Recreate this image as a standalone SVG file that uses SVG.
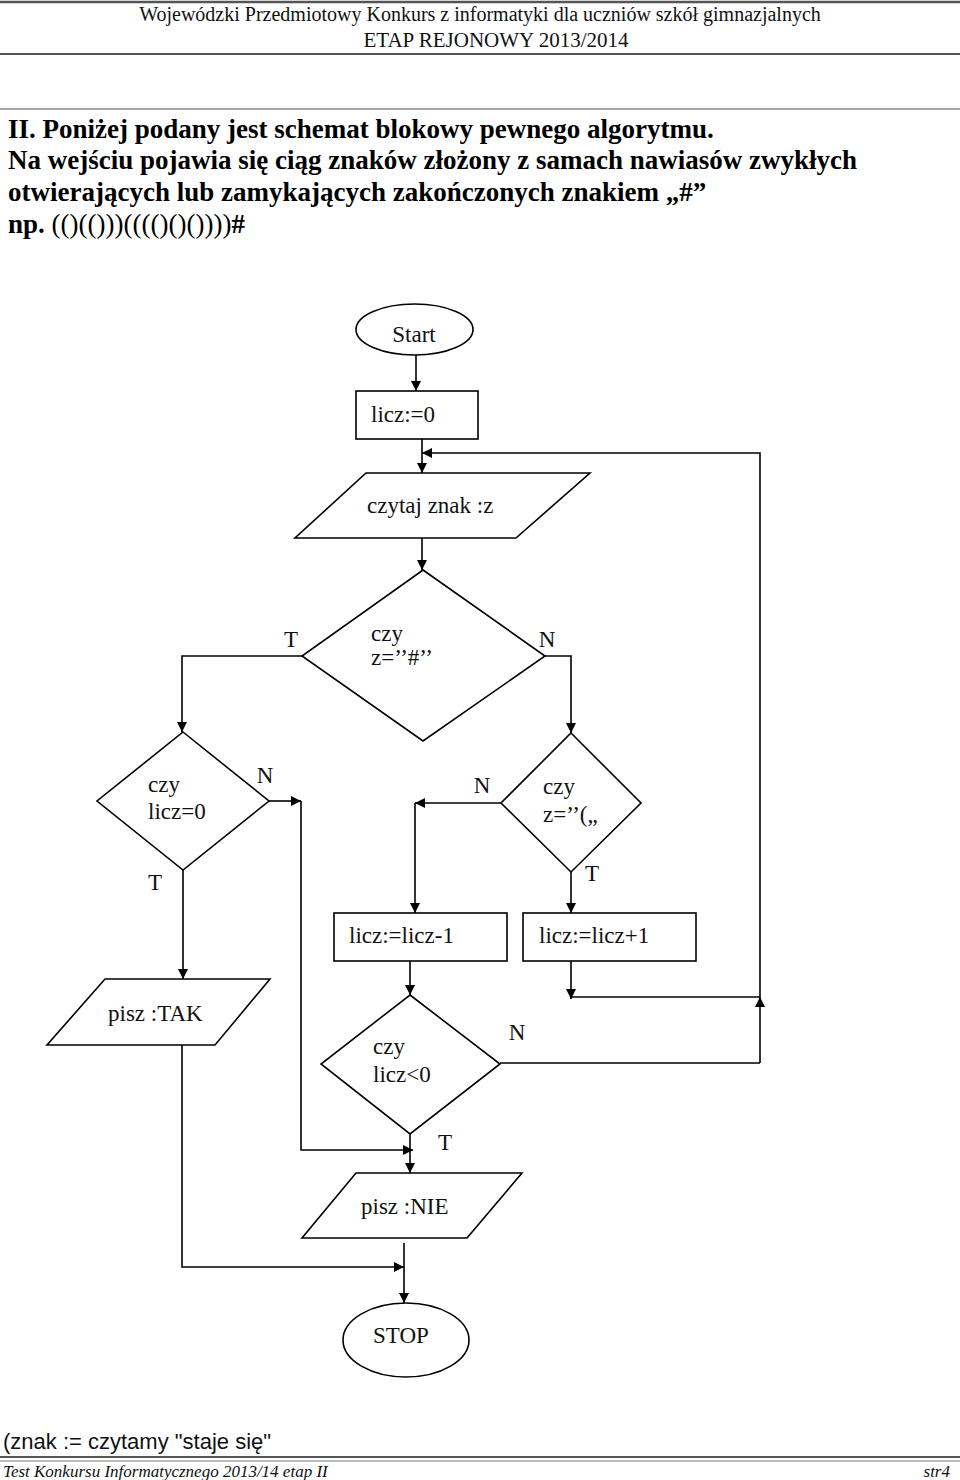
<svg xmlns="http://www.w3.org/2000/svg" width="960" height="1480" viewBox="0 0 960 1480">
<style>
.hdr{font-family:"Liberation Serif","Times New Roman",serif;fill:#111}
.intro{font-family:"Liberation Serif","Times New Roman",serif;font-size:27px;font-weight:bold;fill:#000}
.lbl{font-family:"Liberation Serif","Times New Roman",serif;font-size:23px;fill:#111}
.shape{fill:#fff;stroke:#000;stroke-width:1.6}
.conn path{fill:none;stroke:#000;stroke-width:1.6}
.rule{stroke-width:2}
</style>
<defs>
<marker id="arr" markerUnits="userSpaceOnUse" viewBox="0 0 10 10" refX="10" refY="5" markerWidth="10" markerHeight="10" orient="auto">
<path d="M0,0 L10,5 L0,10 z" fill="#000"/>
</marker>
</defs>
<rect width="960" height="1480" fill="#fff"/>

<g id="page-header">
<line x1="0" y1="2" x2="960" y2="2" stroke="#555" stroke-width="2.5"/>
<text class="hdr" x="480" y="21" font-size="20" text-anchor="middle">Wojewódzki Przedmiotowy Konkurs z informatyki dla uczniów szkół gimnazjalnych</text>
<text class="hdr" x="496" y="47" font-size="21" text-anchor="middle">ETAP REJONOWY 2013/2014</text>
<line x1="0" y1="54" x2="960" y2="54" stroke="#555" stroke-width="2"/>
<line x1="0" y1="109" x2="960" y2="109" stroke="#888" stroke-width="1.5"/>
</g>

<g id="intro-text">
<text class="intro" x="8" y="138">II. Poniżej podany jest schemat blokowy pewnego algorytmu.</text>
<text class="intro" x="8" y="169">Na wejściu pojawia się ciąg znaków złożony z samach nawiasów zwykłych</text>
<text class="intro" x="8" y="201">otwierających lub zamykających zakończonych znakiem „#”</text>
<text class="intro" x="8" y="233">np. <tspan font-weight="normal">(()(()))(((()()())))</tspan>#</text>
</g>

<g class="conn" id="connectors">
<path d="M416,355 V391" marker-end="url(#arr)"/>
<path d="M422,439 V473" marker-end="url(#arr)"/>
<path d="M760,997 V453 H422" marker-end="url(#arr)"/>
<path d="M422,538 V570" marker-end="url(#arr)"/>
<path d="M302,656 H182 V732" marker-end="url(#arr)"/>
<path d="M545,656 H571 V733" marker-end="url(#arr)"/>
<path d="M269,801 H301" marker-end="url(#arr)"/>
<path d="M301,801 V1150 H413" marker-end="url(#arr)"/>
<path d="M183,870 V979" marker-end="url(#arr)"/>
<path d="M501,803 H415" marker-end="url(#arr)"/>
<path d="M415,803 V913" marker-end="url(#arr)"/>
<path d="M571,872 V913" marker-end="url(#arr)"/>
<path d="M571,961 V999" marker-end="url(#arr)"/>
<path d="M571,997 H760"/>
<path d="M760,1063 V997" marker-end="url(#arr)"/>
<path d="M410,961 V995" marker-end="url(#arr)"/>
<path d="M500,1063 H760"/>
<path d="M410,1134 V1173" marker-end="url(#arr)"/>
<path d="M182,1045 V1267 H404" marker-end="url(#arr)"/>
<path d="M404,1243 V1303" marker-end="url(#arr)"/>
</g>

<g id="start">
<ellipse class="shape" cx="414.5" cy="329.5" rx="58.5" ry="25.5"/>
<text class="lbl" x="414" y="342" text-anchor="middle">Start</text>
</g>
<g id="init">
<rect class="shape" x="356" y="391" width="122" height="48"/>
<text class="lbl" x="371" y="422">licz:=0</text>
</g>
<g id="read">
<polygon class="shape" points="366,473 590,473 516,538 295,538"/>
<text class="lbl" x="367" y="513">czytaj znak :z</text>
</g>
<g id="dec-hash">
<polygon class="shape" points="423,570 545,656 423,741 302,656"/>
<text class="lbl" x="371" y="641">czy</text>
<text class="lbl" x="371" y="665">z=’’#’’</text>
<text class="lbl" x="291" y="647" text-anchor="middle">T</text>
<text class="lbl" x="547" y="647" text-anchor="middle">N</text>
</g>
<g id="dec-zero">
<polygon class="shape" points="183,732 269,801 183,870 97,801"/>
<text class="lbl" x="148" y="792">czy</text>
<text class="lbl" x="148" y="819">licz=0</text>
<text class="lbl" x="265" y="783" text-anchor="middle">N</text>
<text class="lbl" x="155" y="890" text-anchor="middle">T</text>
</g>
<g id="dec-open">
<polygon class="shape" points="571,733 641,803 571,872 501,803"/>
<text class="lbl" x="543" y="794">czy</text>
<text class="lbl" x="543" y="822">z=’’(„</text>
<text class="lbl" x="482" y="793" text-anchor="middle">N</text>
<text class="lbl" x="592" y="881" text-anchor="middle">T</text>
</g>
<g id="dec">
<rect class="shape" x="334" y="913" width="173" height="48"/>
<text class="lbl" x="349" y="943">licz:=licz-1</text>
</g>
<g id="inc">
<rect class="shape" x="523" y="913" width="173" height="48"/>
<text class="lbl" x="539" y="943">licz:=licz+1</text>
</g>
<g id="out-tak">
<polygon class="shape" points="105,979 270,979 215,1045 47,1045"/>
<text class="lbl" x="108" y="1021">pisz :TAK</text>
</g>
<g id="dec-neg">
<polygon class="shape" points="410,995 500,1064 410,1134 321,1064"/>
<text class="lbl" x="373" y="1054">czy</text>
<text class="lbl" x="373" y="1082">licz&lt;0</text>
<text class="lbl" x="517" y="1040" text-anchor="middle">N</text>
<text class="lbl" x="445" y="1150" text-anchor="middle">T</text>
</g>
<g id="out-nie">
<polygon class="shape" points="356,1173 522,1173 467,1238 302,1238"/>
<text class="lbl" x="361" y="1214">pisz :NIE</text>
</g>
<g id="stop">
<ellipse class="shape" cx="406" cy="1340" rx="63" ry="37"/>
<text class="lbl" x="401" y="1343" text-anchor="middle">STOP</text>
</g>

<g id="page-footer">
<text x="3" y="1449" font-family="Liberation Sans, Arial, sans-serif" font-size="22" fill="#111">(znak := czytamy "staje się"</text>
<line x1="0" y1="1457" x2="960" y2="1457" stroke="#555" stroke-width="2"/>
<line x1="0" y1="1461" x2="960" y2="1461" stroke="#777" stroke-width="1"/>
<text class="hdr" x="3" y="1477" font-size="17" font-style="italic">Test Konkursu Informatycznego 2013/14  etap II</text>
<text class="hdr" x="950" y="1477" font-size="17" font-style="italic" text-anchor="end">str4</text>
</g>
</svg>
